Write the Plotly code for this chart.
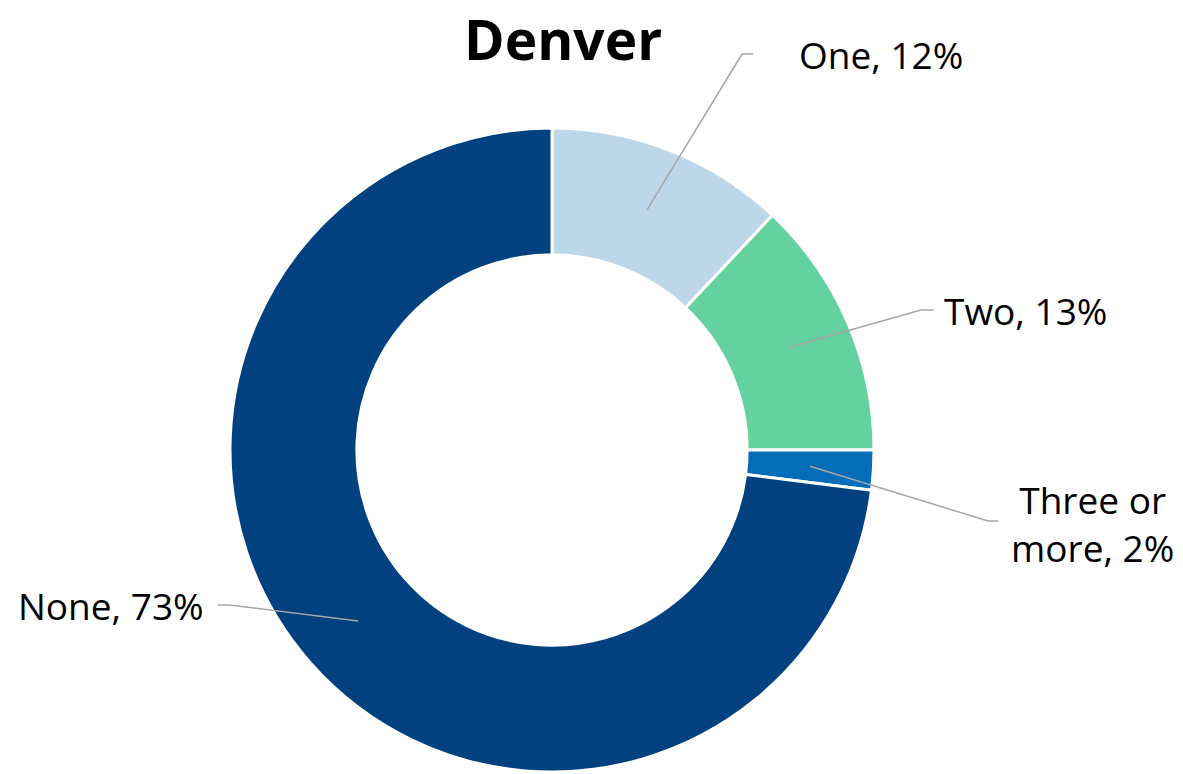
import math
import plotly.graph_objects as go

# ---- data ----
categories = ["One", "Two", "Three or more", "None"]
label_text = ["One, 12%", "Two, 13%", "Three or<br>more, 2%", "None, 73%"]
values = [12, 13, 2, 73]
colors = ["#BDD7EA", "#63D29E", "#046DB8", "#01417F"]
title_text = "Denver"

# ---- layout constants ----
W, H = 1183, 774
HOLE = 0.606
DOM_X = [230 / W, 874 / W]
DOM_Y = [1 - 772 / H, 1 - 128 / H]

# label placement (pixels): elbow point, end of horizontal stub, text anchor
label_place = [
    dict(elbow=(742, 54), end=(753, 54), text=(797, 54), anchor="left"),
    dict(elbow=(921, 310), end=(934, 310), text=(942, 310), anchor="left"),
    dict(elbow=(988, 521), end=(998, 521), text=(1092, 523), anchor="center"),
    dict(elbow=(229, 605), end=(218, 605), text=(206, 605), anchor="right"),
]

FONT = "Open Sans"
LINE_COLOR = "#A6A6A6"

fig = go.Figure(
    go.Pie(
        labels=categories,
        values=values,
        hole=HOLE,
        sort=False,
        direction="clockwise",
        rotation=0,
        marker=dict(colors=colors, line=dict(color="white", width=3)),
        textinfo="none",
        hoverinfo="label+percent",
        domain=dict(x=DOM_X, y=DOM_Y),
        showlegend=False,
    )
)

# geometry derived from the pie domain
cx = (DOM_X[0] + DOM_X[1]) / 2 * W
cy = (1 - (DOM_Y[0] + DOM_Y[1]) / 2) * H
r_out = min((DOM_X[1] - DOM_X[0]) * W, (DOM_Y[1] - DOM_Y[0]) * H) / 2
r_mid = (r_out + r_out * HOLE) / 2

def px(x, y):
    return x / W, 1 - y / H

total = sum(values)
cum = 0
shapes = []
annotations = []
for val, txt, place in zip(values, label_text, label_place):
    mid = (cum + val / 2) / total * 2 * math.pi
    cum += val
    sx = cx + r_mid * math.sin(mid)
    sy = cy - r_mid * math.cos(mid)
    p0 = px(sx, sy)
    p1 = px(*place["elbow"])
    p2 = px(*place["end"])
    shapes.append(dict(
        type="path", xref="paper", yref="paper",
        path=f"M {p0[0]} {p0[1]} L {p1[0]} {p1[1]} L {p2[0]} {p2[1]}",
        line=dict(color=LINE_COLOR, width=1.5),
    ))
    tx, ty = px(*place["text"])
    annotations.append(dict(
        x=tx, y=ty, xref="paper", yref="paper",
        text=txt, showarrow=False,
        xanchor=place["anchor"], yanchor="middle",
        align="center",
        font=dict(family=FONT, size=37, color="#000000"),
    ))

annotations.append(dict(
    x=563 / W, y=1, xref="paper", yref="paper",
    text=f"<b>{title_text}</b>", showarrow=False,
    xanchor="center", yanchor="top", borderpad=0,
    font=dict(family=FONT, size=55, color="#000000"),
))

fig.update_layout(
    width=W, height=H,
    margin=dict(l=0, r=0, t=0, b=0),
    paper_bgcolor="white",
    plot_bgcolor="white",
    shapes=shapes,
    annotations=annotations,
)

fig.write_html(
    "out.html",
    config={"displayModeBar": False},
    post_script="document.body.style.margin='0';document.body.style.padding='0';",
)
